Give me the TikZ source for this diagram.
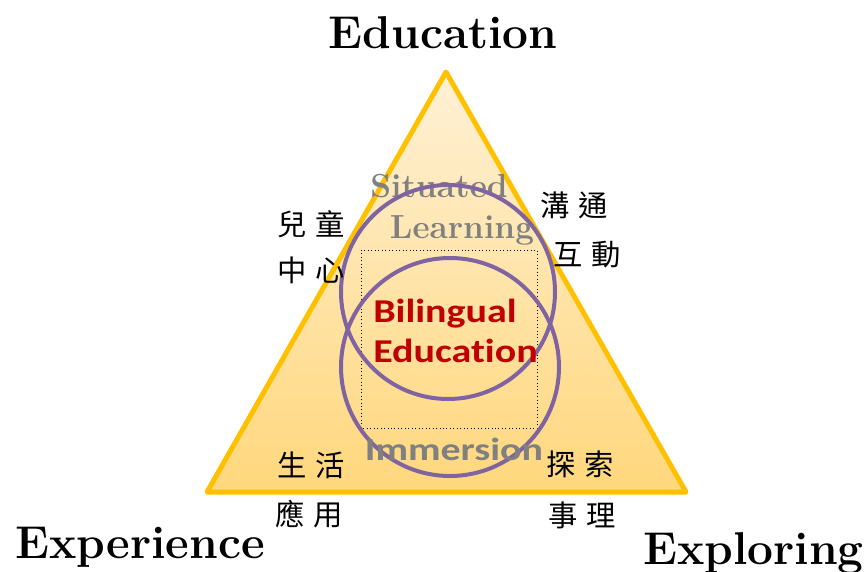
\documentclass[tikz,border=0pt]{standalone}
\usepackage{fontspec}
\newfontfamily\cjk{Noto Sans CJK TC}
\newfontfamily\carl[Ligatures=NoCommon]{Carlito}
\definecolor{triedge}{HTML}{FFC000}
\definecolor{tritop}{HTML}{FFF1D6}
\definecolor{tribot}{HTML}{FFD77C}
\definecolor{ring}{HTML}{8064A2}
\definecolor{darkred}{HTML}{C00000}
\definecolor{midgray}{HTML}{808080}
\begin{document}
\begin{tikzpicture}[x=0.75pt,y=-0.75pt,
  corner/.style={font=\fontsize{34.5}{38}\selectfont\bfseries,inner sep=0pt},
  cjkpair/.style={font=\cjk\fontsize{22}{24}\selectfont,inner sep=0pt},
  ringline/.style={draw=ring,line width=3pt},
  bilstyle/.style={font=\carl\bfseries\fontsize{25}{28}\selectfont,text=darkred,anchor=base west,inner sep=0pt}]
\useasboundingbox (0,0) rectangle (866,571);
% triangle
\coordinate (A) at (446,72);
\coordinate (B) at (207,492);
\coordinate (C) at (686,492);
\shade[top color=tritop,bottom color=tribot] (A) -- (B) -- (C) -- cycle;
\draw[triedge,line width=3.75pt,line join=round] (A) -- (B) -- (C) -- cycle;
% dotted box
\draw[black,dotted,line width=0.6pt] (361,250) rectangle (537,428);
% texts in triangle
\node[font=\fontsize{25}{30}\selectfont\bfseries,text=midgray,anchor=base,inner sep=0pt] (sit) at (439,197) {Situated};
\node[font=\fontsize{25}{30}\selectfont\bfseries,text=midgray,anchor=base,inner sep=0pt] (learn) at (462,238) {Learning};
% circles
\draw[ringline] (448,292) circle (107);
\draw[ringline] (450,367) circle (109);
\node[bilstyle] (bil) at (373,322) {\scalebox{1.2}[1]{Bilingual}};
\node[bilstyle] (edu2) at (373,362) {\scalebox{1.2}[1]{Education}};
\node[font=\carl\bfseries\fontsize{24}{26}\selectfont,text=midgray,anchor=base,inner sep=0pt] (imm) at (454,460) {\scalebox{1.25}[1]{Immersion}};
% corner labels
\node[corner,anchor=base] (edu) at (443,48) {Education};
\node[corner,anchor=base west] (exp) at (15,558) {Experience};
\node[corner,anchor=base west] (explo) at (643,564) {Exploring};
% CJK labels
\node[cjkpair] (c1) at (311,224) {兒\hspace{7pt}童};
\node[cjkpair] (c2) at (311,270) {中\hspace{7pt}心};
\node[cjkpair] (c3) at (574,205) {溝\hspace{7pt}通};
\node[cjkpair] (c4) at (587,255) {互\hspace{7pt}動};
\node[cjkpair] (c5) at (311,465) {生\hspace{7pt}活};
\node[cjkpair] (c6) at (309,514) {應\hspace{7pt}用};
\node[cjkpair] (c7) at (580,464) {探\hspace{7pt}索};
\node[cjkpair] (c8) at (582,515) {事\hspace{7pt}理};
\end{tikzpicture}
\end{document}
